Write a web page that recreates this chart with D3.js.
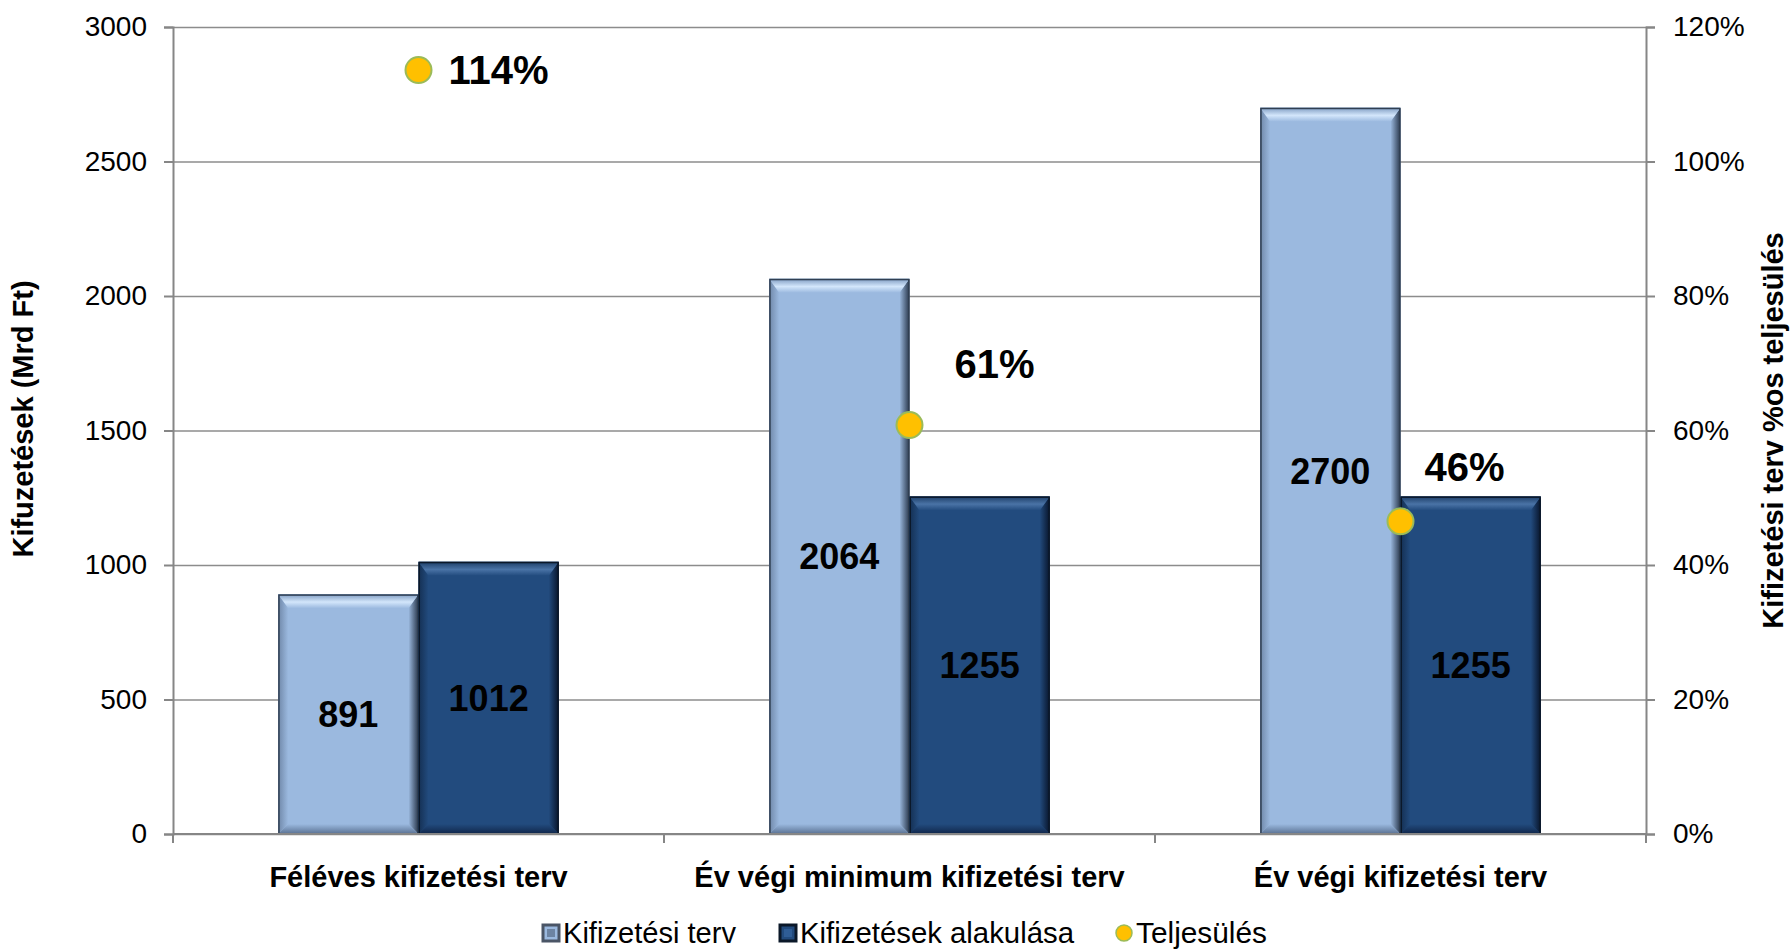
<!DOCTYPE html>
<html>
<head>
<meta charset="utf-8">
<script src="https://cdn.jsdelivr.net/npm/d3@7"></script>
<style>
  body { margin: 0; background: #fff; }
  svg { font-family: "Liberation Sans", Arial, sans-serif; }
</style>
</head>
<body>
<svg id="chart" width="1790" height="952"></svg>
<script>
// data
var categories = ["Féléves kifizetési terv", "Év végi minimum kifizetési terv", "Év végi kifizetési terv"];
var plan = [891, 2064, 2700];          // Kifizetési terv
var actual = [1012, 1255, 1255];       // Kifizetések alakulása
var fulfilment = [1.136, 0.608, 0.465]; // Teljesülés
var fulfilmentLabels = ["114%", "61%", "46%"];
var leftTicks = [0, 500, 1000, 1500, 2000, 2500, 3000];
var rightTicks = [0, 0.2, 0.4, 0.6, 0.8, 1.0, 1.2];
var seriesNames = ["Kifizetési terv", "Kifizetések alakulása", "Teljesülés"];

// plot box (note: "top" is reserved on window, so prefixed names)
var plotL = 173, plotR = 1646, plotT = 27, plotB = 834;
var bevel = 10;

var svg = d3.select("#chart");
var defs = svg.append("defs");

var x0 = d3.scaleBand().domain(categories).range([plotL, plotR]).paddingInner(0).paddingOuter(0);
var barW = x0.bandwidth() / (2 + 1.5);
var y = d3.scaleLinear().domain([0, 3000]).range([plotB, plotT]);
var y2 = d3.scaleLinear().domain([0, 1.2]).range([plotB, plotT]);

// bevel colours
var palettes = {
    plan:   {base: "#9bb9df", topA: "#7f9cc2", topB: "#d3e6fb", left: "#6f87a8", right: "#28364a", bottom: "#5a7192", edge: "#303f52"},
    actual: {base: "#224b7e", topA: "#1c3d66", topB: "#4a73a6", left: "#142f52", right: "#08142a", bottom: "#10264a", edge: "#0b1829"}
};

function grad(id, x1, y1, x2, y2_, stops) {
    var g = defs.append("linearGradient").attr("id", id)
        .attr("x1", x1).attr("y1", y1).attr("x2", x2).attr("y2", y2_);
    stops.forEach(function(s){
        g.append("stop").attr("offset", s[0]).attr("stop-color", s[1]);
    });
}
Object.keys(palettes).forEach(function(k){
    var p = palettes[k];
    grad(k + "-top", 0, 0, 0, 1, [[0, p.topA], [0.55, p.topB], [1, p.base]]);
    grad(k + "-left", 0, 0, 1, 0, [[0, p.left], [1, p.base]]);
    grad(k + "-right", 0, 0, 1, 0, [[0, p.base], [1, p.right]]);
    grad(k + "-bottom", 0, 0, 0, 1, [[0, p.base], [1, p.bottom]]);
});

// gridlines
svg.append("g")
    .attr("transform", "translate(" + plotL + ",0)")
    .call(d3.axisLeft(y).tickValues(leftTicks).tickSize(-(plotR - plotL)).tickFormat(""))
    .call(function(g){
        g.select(".domain").remove();
        g.selectAll("line").attr("stroke", "#8c8c8c").attr("stroke-width", 1.5);
    });

function drawBar(g, x, v, key) {
    var p = palettes[key];
    var x1 = x, x2 = x + barW, t = y(v), b = y(0);
    var bv = Math.min(bevel, (b - t) / 2);
    g.append("rect").attr("x", x1).attr("y", t).attr("width", barW).attr("height", b - t)
        .attr("fill", p.base);
    var pts = {
        top: [[x1, t], [x2, t], [x2 - bv, t + bv + 4], [x1 + bv, t + bv + 4]],
        left: [[x1, t], [x1 + bv, t + bv + 4], [x1 + bv, b - bv], [x1, b]],
        right: [[x2, t], [x2 - bv, t + bv + 4], [x2 - bv, b - bv], [x2, b]],
        bottom: [[x1, b], [x1 + bv, b - bv], [x2 - bv, b - bv], [x2, b]]
    };
    ["left", "right", "bottom", "top"].forEach(function(side){
        g.append("polygon")
            .attr("points", pts[side].map(function(d){ return d.join(","); }).join(" "))
            .attr("fill", "url(#" + key + "-" + side + ")");
    });
    g.append("rect").attr("x", x1 + 0.75).attr("y", t + 0.75).attr("width", barW - 1.5).attr("height", b - t - 0.75)
        .attr("fill", "none").attr("stroke", p.edge).attr("stroke-width", 1.5);
}

var bars = svg.append("g");
categories.forEach(function(c, i){
    var cx = x0(c) + x0.bandwidth() / 2;
    drawBar(bars, cx - barW, plan[i], "plan");
    drawBar(bars, cx, actual[i], "actual");
});

// bar value labels
var valueLabels = svg.append("g")
    .attr("font-size", 36).attr("font-weight", "bold").attr("text-anchor", "middle").attr("fill", "#000");
categories.forEach(function(c, i){
    var cx = x0(c) + x0.bandwidth() / 2;
    valueLabels.append("text").attr("x", cx - barW / 2).attr("y", (y(plan[i]) + y(0)) / 2)
        .attr("dy", "0.36em").text(plan[i]);
    valueLabels.append("text").attr("x", cx + barW / 2).attr("y", (y(actual[i]) + y(0)) / 2)
        .attr("dy", "0.36em").text(actual[i]);
});

// axes
var axisColor = "#868686";
var gl = svg.append("g").attr("transform", "translate(" + plotL + ",0)")
    .call(d3.axisLeft(y).tickValues(leftTicks).tickSize(9).tickPadding(17).tickFormat(d3.format("d")));
var gr = svg.append("g").attr("transform", "translate(" + plotR + ",0)")
    .call(d3.axisRight(y2).tickValues(rightTicks).tickSize(9).tickPadding(18).tickFormat(d3.format(".0%")));
var gb = svg.append("g").attr("transform", "translate(0," + plotB + ")")
    .call(d3.axisBottom(x0).tickSize(0).tickPadding(32));
[gl, gr, gb].forEach(function(g){
    g.select(".domain").attr("stroke", axisColor).attr("stroke-width", 2);
    g.selectAll(".tick line").attr("stroke", axisColor).attr("stroke-width", 2);
    g.selectAll("text").attr("font-family", "Liberation Sans, Arial, sans-serif").attr("fill", "#000");
});
gl.selectAll("text").attr("font-size", 28);
gr.selectAll("text").attr("font-size", 28);
gb.selectAll("text").attr("font-size", 29).attr("font-weight", "bold");
gb.select(".domain").attr("d", "M" + plotL + ",0H" + plotR);

// category divider ticks
svg.append("g").selectAll("line")
    .data(categories.concat(["end"]))
    .enter().append("line")
    .attr("x1", function(d, i){ return plotL + i * x0.bandwidth(); })
    .attr("x2", function(d, i){ return plotL + i * x0.bandwidth(); })
    .attr("y1", plotB).attr("y2", plotB + 9)
    .attr("stroke", axisColor).attr("stroke-width", 2);

// axis titles
svg.append("text")
    .attr("transform", "translate(33,419) rotate(-90)")
    .attr("text-anchor", "middle").attr("font-size", 29).attr("font-weight", "bold")
    .text("Kifuzetések (Mrd Ft)");
svg.append("text")
    .attr("transform", "translate(1783," + ((plotT + plotB) / 2) + ") rotate(-90)")
    .attr("text-anchor", "middle").attr("font-size", 29).attr("font-weight", "bold")
    .text("Kifizetési terv %os teljesülés");

// fulfilment markers
var labelOffsets = [[30, 0, "start"], [85, -62, "middle"], [64, -55, "middle"]];
var pts = svg.append("g");
categories.forEach(function(c, i){
    var cx = x0(c) + x0.bandwidth() / 2, cy = y2(fulfilment[i]);
    pts.append("circle").attr("cx", cx).attr("cy", cy).attr("r", 13)
        .attr("fill", "#ffc000").attr("stroke", "#9bbb59").attr("stroke-width", 2);
    pts.append("text")
        .attr("x", cx + labelOffsets[i][0]).attr("y", cy + labelOffsets[i][1])
        .attr("dy", "0.36em").attr("text-anchor", labelOffsets[i][2])
        .attr("font-size", 40).attr("font-weight", "bold")
        .text(fulfilmentLabels[i]);
});

// legend
var legend = svg.append("g").attr("font-size", 29);
var legendX = [543, 780, 1124];
var ly = 933;
["plan", "actual"].forEach(function(k, i){
    var p = palettes[k];
    var lg = legend.append("g");
    lg.append("rect").attr("x", legendX[i]).attr("y", ly - 8).attr("width", 16).attr("height", 16)
        .attr("fill", p.base).attr("stroke", k === "plan" ? "#4a5566" : p.edge).attr("stroke-width", 3);
    lg.append("rect").attr("x", legendX[i] + 4).attr("y", ly - 4).attr("width", 8).attr("height", 8)
        .attr("fill", k === "plan" ? "#6d84a3" : "#2f5d96");
    lg.append("text").attr("x", legendX[i] + 20).attr("y", ly).attr("dy", "0.36em")
        .attr("textLength", i === 0 ? 173 : 274).attr("lengthAdjust", "spacingAndGlyphs")
        .text(seriesNames[i]);
});
legend.append("circle").attr("cx", legendX[2]).attr("cy", ly).attr("r", 8)
    .attr("fill", "#ffc000").attr("stroke", "#9bbb59").attr("stroke-width", 1.5);
legend.append("text").attr("x", legendX[2] + 12).attr("y", ly).attr("dy", "0.36em")
    .attr("textLength", 131).attr("lengthAdjust", "spacingAndGlyphs")
    .text(seriesNames[2]);
</script>
</body>
</html>
